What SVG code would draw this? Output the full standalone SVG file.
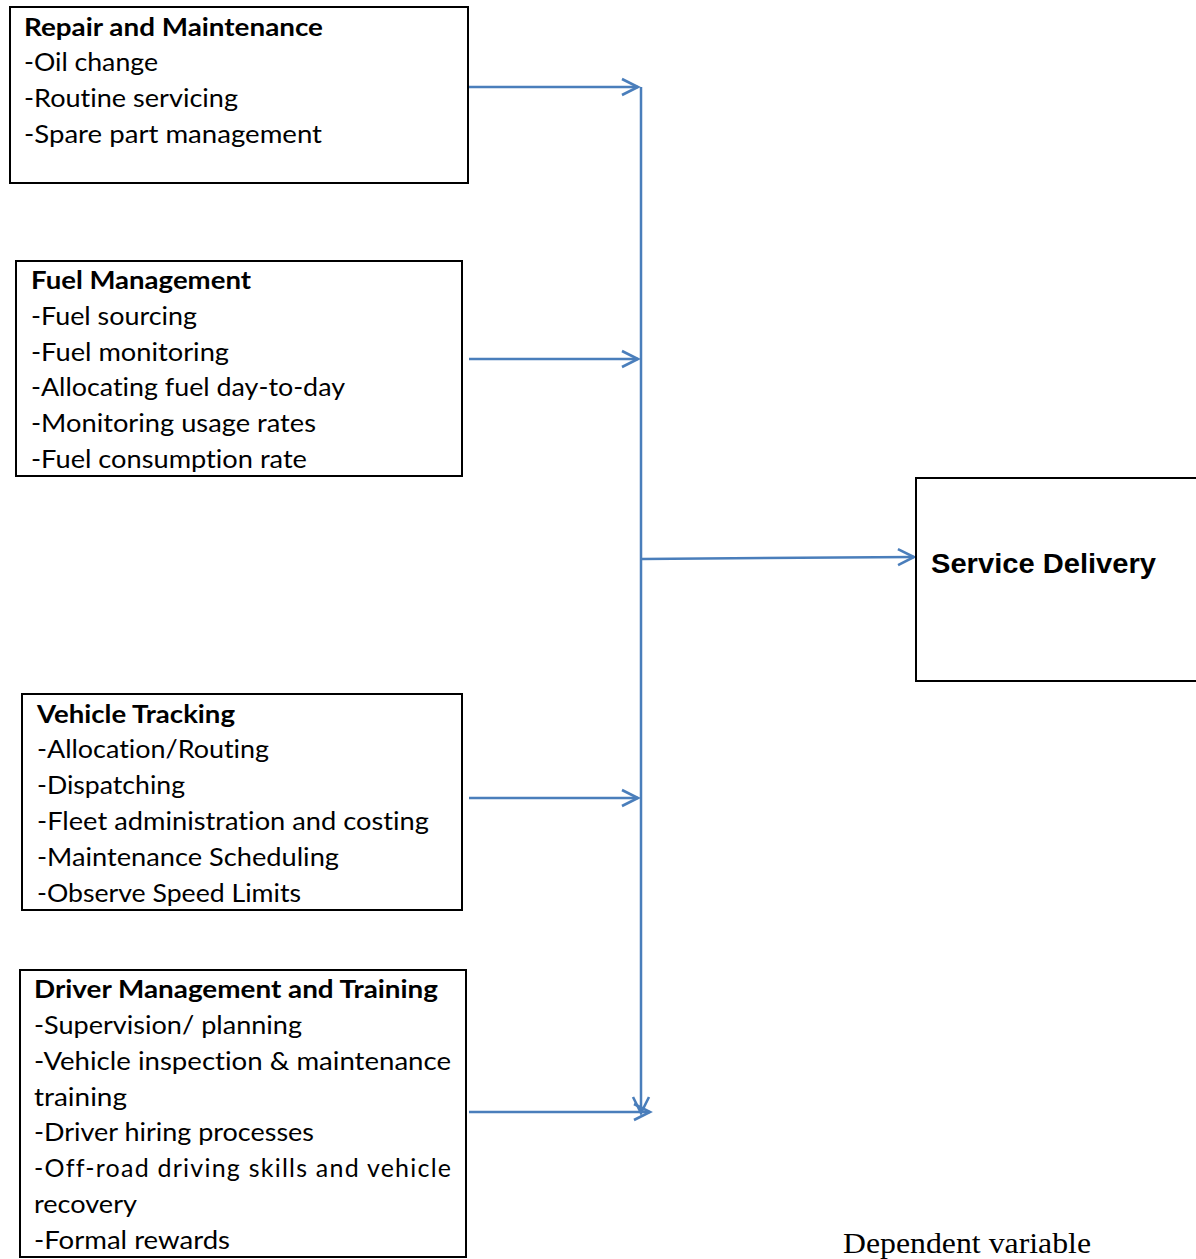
<svg xmlns="http://www.w3.org/2000/svg" width="1196" height="1259" viewBox="0 0 1196 1259">
<defs>
<style>
.box{fill:#fff;stroke:#000;stroke-width:2}
.t{font-family:Lato,"Open Sans","Liberation Sans",sans-serif;font-size:25px;fill:#000;font-variant-ligatures:none;font-feature-settings:"liga" 0,"clig" 0,"dlig" 0}
.b{font-weight:bold}
.sd{font-family:"Liberation Sans",Arial,sans-serif;font-size:27px;font-weight:bold;fill:#000}
.dv{font-family:"Liberation Serif","Times New Roman",serif;font-size:29px;fill:#000}
.c{stroke:#4a7ebb;stroke-width:2.5;fill:none}
</style>
<marker id="ah" markerUnits="userSpaceOnUse" markerWidth="24" markerHeight="24" refX="20" refY="12" orient="auto">
<path d="M4,4 L20,12 L4,20" fill="none" stroke="#4a7ebb" stroke-width="2.6"/>
</marker>
</defs>
<rect width="1196" height="1259" fill="#fff"/>
<g id="connectors">
<line class="c" x1="641" y1="87" x2="641" y2="1113" marker-end="url(#ah)"/>
<line class="c" x1="469" y1="87" x2="638" y2="87" marker-end="url(#ah)"/>
<line class="c" x1="469" y1="359" x2="638" y2="359" marker-end="url(#ah)"/>
<line class="c" x1="469" y1="798" x2="638" y2="798" marker-end="url(#ah)"/>
<line class="c" x1="469" y1="1112" x2="650" y2="1112" marker-end="url(#ah)"/>
<line class="c" x1="642" y1="559" x2="914" y2="557" marker-end="url(#ah)"/>
</g>
<g id="repair">
<rect class="box" x="10" y="7" width="458" height="176"/>
<text class="t b" x="24" y="36" textLength="299" lengthAdjust="spacingAndGlyphs">Repair and Maintenance</text>
<text class="t" x="24" y="71" textLength="134" lengthAdjust="spacingAndGlyphs">-Oil change</text>
<text class="t" x="24" y="107" textLength="214" lengthAdjust="spacingAndGlyphs">-Routine servicing</text>
<text class="t" x="24" y="143" textLength="298" lengthAdjust="spacingAndGlyphs">-Spare part management</text>
</g>
<g id="fuel">
<rect class="box" x="16" y="261" width="446" height="215"/>
<text class="t b" x="31" y="289" textLength="220" lengthAdjust="spacingAndGlyphs">Fuel Management</text>
<text class="t" x="31" y="325" textLength="166" lengthAdjust="spacingAndGlyphs">-Fuel sourcing</text>
<text class="t" x="31" y="361" textLength="198" lengthAdjust="spacingAndGlyphs">-Fuel monitoring</text>
<text class="t" x="31" y="396" textLength="314" lengthAdjust="spacingAndGlyphs">-Allocating fuel day-to-day</text>
<text class="t" x="31" y="432" textLength="285" lengthAdjust="spacingAndGlyphs">-Monitoring usage rates</text>
<text class="t" x="31" y="468" textLength="276" lengthAdjust="spacingAndGlyphs">-Fuel consumption rate</text>
</g>
<g id="tracking">
<rect class="box" x="22" y="694" width="440" height="216"/>
<text class="t b" x="37" y="723" textLength="198" lengthAdjust="spacingAndGlyphs">Vehicle Tracking</text>
<text class="t" x="37" y="758" textLength="232" lengthAdjust="spacingAndGlyphs">-Allocation/Routing</text>
<text class="t" x="37" y="794" textLength="148" lengthAdjust="spacingAndGlyphs">-Dispatching</text>
<text class="t" x="37" y="830" textLength="392" lengthAdjust="spacingAndGlyphs">-Fleet administration and costing</text>
<text class="t" x="37" y="866" textLength="302" lengthAdjust="spacingAndGlyphs">-Maintenance Scheduling</text>
<text class="t" x="37" y="902" textLength="264" lengthAdjust="spacingAndGlyphs">-Observe Speed Limits</text>
</g>
<g id="driver">
<rect class="box" x="20" y="970" width="446" height="287"/>
<text class="t b" x="34" y="998" textLength="404" lengthAdjust="spacingAndGlyphs">Driver Management and Training</text>
<text class="t" x="34" y="1034" textLength="268" lengthAdjust="spacingAndGlyphs">-Supervision/ planning</text>
<text class="t" x="34" y="1070" textLength="417" lengthAdjust="spacingAndGlyphs">-Vehicle inspection &amp; maintenance</text>
<text class="t" x="34" y="1106" textLength="93" lengthAdjust="spacingAndGlyphs">training</text>
<text class="t" x="34" y="1141" textLength="280" lengthAdjust="spacingAndGlyphs">-Driver hiring processes</text>
<text class="t" x="34" y="1177" textLength="417" lengthAdjust="spacing">-Off-road driving skills and vehicle</text>
<text class="t" x="34" y="1213" textLength="103" lengthAdjust="spacingAndGlyphs">recovery</text>
<text class="t" x="34" y="1249" textLength="196" lengthAdjust="spacingAndGlyphs">-Formal rewards</text>
</g>
<g id="service">
<rect class="box" x="916" y="478" width="290" height="203"/>
<text class="sd" x="931" y="573" textLength="225" lengthAdjust="spacingAndGlyphs">Service Delivery</text>
</g>
<g id="dependent">
<text class="dv" x="843" y="1253" textLength="248" lengthAdjust="spacingAndGlyphs">Dependent variable</text>
</g>
</svg>
